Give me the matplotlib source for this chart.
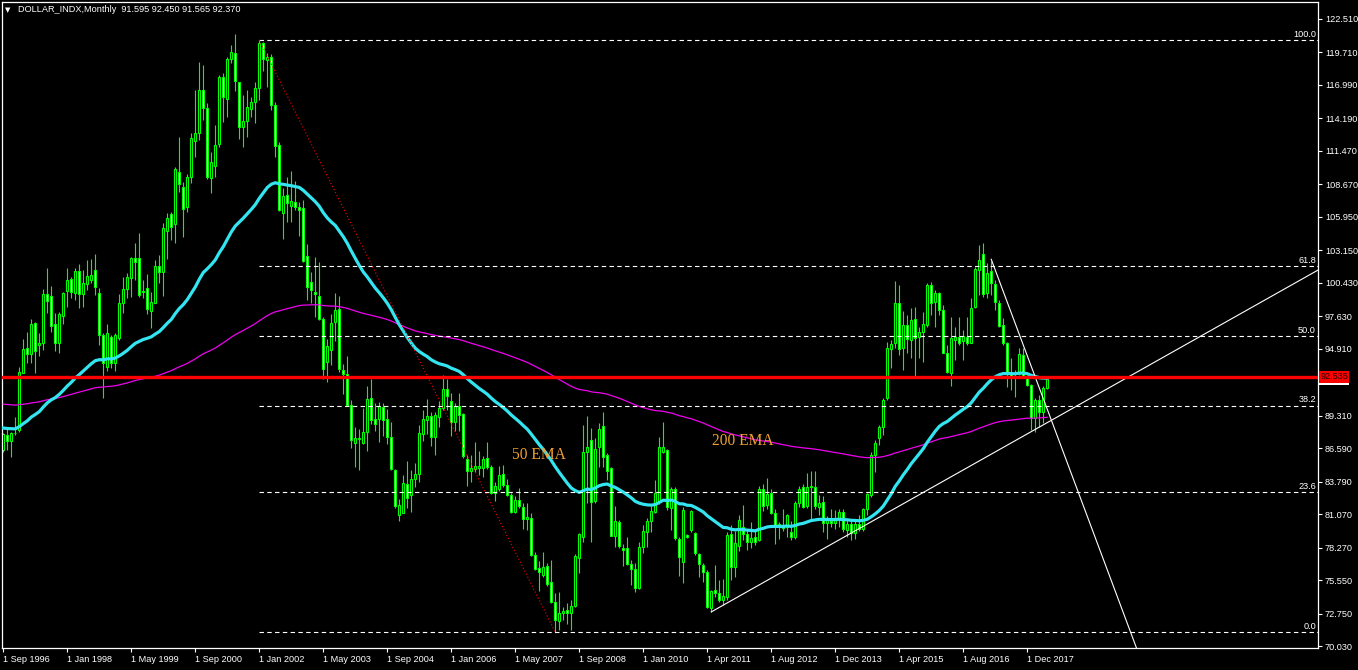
import numpy as np
import pandas as pd
import matplotlib
matplotlib.use("Agg")
import matplotlib.pyplot as plt
from matplotlib.transforms import blended_transform_factory

# monthly bars (bar index 0 = Sep 1996)
OPENS = [
    86.45, 87.70, 87.23, 87.84, 88.12, 92.92, 94.96, 94.45, 97.05, 95.20,
    95.37, 99.47, 99.30, 96.96, 95.43, 97.69, 99.78, 100.73, 99.61, 101.40,
    99.50, 100.31, 100.67, 101.51, 99.56, 96.07, 93.36, 95.93, 93.70, 95.79,
    98.78, 99.89, 100.81, 102.49, 102.51, 99.78, 99.98, 98.11, 98.78, 101.87,
    101.37, 104.80, 106.17, 105.33, 109.74, 108.48, 106.75, 109.26, 112.33, 113.00,
    116.57, 115.10, 109.18, 110.24, 112.03, 117.69, 115.79, 119.14, 119.64, 117.21,
    113.50, 114.00, 114.95, 115.60, 116.77, 120.53, 119.08, 119.30, 115.30, 111.93,
    106.31, 107.80, 106.88, 107.17, 106.74, 106.65, 102.70, 100.46, 99.70, 99.30,
    97.37, 93.77, 94.84, 97.11, 98.24, 93.11, 92.82, 90.23, 87.06, 87.43,
    87.06, 87.92, 90.77, 89.04, 89.07, 90.02, 89.01, 87.49, 84.75, 81.00,
    81.15, 83.60, 82.65, 84.03, 84.46, 87.78, 88.99, 89.27, 87.49, 89.22,
    89.94, 91.52, 90.51, 88.79, 90.08, 89.45, 85.67, 84.66, 84.84, 84.95,
    84.95, 85.76, 85.04, 82.88, 83.17, 84.46, 83.54, 82.65, 81.21, 82.24,
    81.67, 80.69, 80.71, 77.69, 76.54, 75.96, 76.77, 75.38, 73.75, 72.16,
    72.78, 73.06, 72.78, 73.42, 77.38, 79.19, 86.31, 87.28, 82.20, 86.67,
    88.45, 86.03, 84.91, 79.28, 80.39, 78.27, 78.22, 76.91, 76.46, 74.87,
    78.36, 79.61, 80.53, 81.23, 82.07, 86.31, 86.45, 81.56, 83.15, 78.97,
    77.10, 79.30, 79.75, 79.53, 77.74, 76.80, 76.26, 73.20, 74.73, 74.50,
    73.90, 74.17, 79.42, 76.63, 78.41, 80.03, 79.42, 78.78, 79.14, 78.91,
    83.15, 81.84, 82.82, 81.20, 80.03, 80.17, 80.03, 79.56, 79.14, 81.98,
    83.32, 81.76, 83.32, 83.32, 81.70, 82.12, 80.36, 80.53, 80.36, 80.73,
    81.29, 79.75, 80.25, 79.53, 80.25, 79.81, 81.48, 82.68, 86.03, 87.42,
    88.39, 90.76, 94.86, 95.42, 98.71, 94.95, 96.90, 95.64, 97.37, 95.87,
    96.34, 96.90, 100.25, 98.85, 99.55, 98.16, 94.58, 92.91, 95.64, 95.87,
    95.59, 95.92, 95.42, 98.38, 101.50, 102.84, 99.55, 101.45, 100.33, 98.77,
    96.90, 95.37, 92.86, 92.67, 92.80, 94.39, 92.58, 91.88, 89.09, 90.62,
    89.65, 91.595,
]
HIGHS = [
    87.84, 88.40, 87.98, 89.24, 93.42, 95.71, 96.35, 97.38, 97.19, 96.21,
    99.89, 101.65, 100.20, 97.88, 98.02, 99.70, 101.65, 100.95, 101.65, 102.01,
    101.51, 102.35, 102.46, 102.85, 100.03, 96.21, 96.99, 96.07, 96.21, 99.50,
    100.95, 101.23, 102.57, 103.74, 104.58, 100.67, 101.17, 99.70, 102.35, 102.77,
    105.41, 106.31, 106.39, 110.16, 112.67, 108.85, 109.54, 112.95, 116.57, 118.94,
    118.66, 115.46, 111.41, 113.64, 117.83, 117.97, 119.31, 120.34, 121.26, 117.27,
    116.15, 116.57, 116.01, 117.27, 120.75, 120.62, 119.70, 119.60, 115.60, 112.20,
    108.38, 109.25, 109.76, 108.93, 107.23, 107.37, 103.68, 101.32, 102.62, 102.19,
    97.57, 95.70, 97.86, 99.59, 99.30, 93.60, 94.32, 90.66, 88.35, 88.21,
    89.94, 91.81, 92.39, 90.37, 90.43, 90.37, 89.85, 88.79, 84.89, 82.30,
    84.32, 85.53, 84.75, 85.33, 88.50, 89.79, 90.72, 89.65, 89.65, 90.51,
    92.68, 92.39, 91.18, 90.37, 91.18, 89.56, 86.05, 86.05, 87.11, 86.34,
    85.90, 87.11, 85.18, 83.74, 85.12, 85.18, 84.03, 82.88, 82.59, 83.22,
    82.01, 82.01, 81.15, 77.92, 77.11, 77.92, 76.97, 77.26, 74.45, 74.59,
    73.34, 73.60, 73.89, 77.74, 79.47, 88.54, 89.29, 88.26, 87.42, 88.68,
    89.65, 86.17, 85.05, 81.76, 80.59, 78.58, 79.14, 77.24, 76.96, 78.78,
    80.17, 80.73, 81.76, 83.94, 87.56, 88.82, 86.50, 83.38, 83.32, 79.14,
    81.65, 79.42, 81.43, 79.61, 77.80, 76.96, 76.40, 74.73, 76.82, 75.57,
    75.62, 79.60, 80.20, 79.70, 81.00, 81.80, 79.80, 80.40, 79.70, 83.40,
    83.60, 84.10, 83.20, 81.50, 80.40, 81.50, 81.10, 80.50, 82.20, 83.40,
    83.60, 84.50, 84.70, 84.70, 82.70, 82.60, 80.90, 81.50, 81.40, 81.50,
    81.50, 80.70, 80.60, 80.60, 81.00, 81.60, 82.80, 86.30, 87.30, 88.53,
    90.76, 95.50, 95.65, 100.61, 100.25, 98.10, 97.74, 98.30, 98.38, 96.76,
    98.00, 100.39, 100.53, 99.83, 99.69, 98.58, 95.23, 97.54, 96.76, 97.54,
    96.48, 97.54, 99.13, 101.73, 103.59, 103.73, 102.06, 102.28, 100.67, 98.99,
    97.46, 95.50, 94.11, 93.13, 94.95, 94.95, 92.72, 91.96, 90.76, 91.04,
    91.80, 92.45,
]
LOWS = [
    86.31, 86.45, 85.89, 87.70, 87.98, 92.86, 93.70, 93.70, 92.92, 94.31,
    94.81, 97.88, 96.35, 94.76, 94.59, 97.00, 98.39, 99.14, 99.00, 98.30,
    98.39, 99.84, 100.39, 99.42, 95.23, 90.77, 93.09, 93.28, 93.09, 95.65,
    97.88, 99.14, 99.28, 100.67, 99.22, 99.14, 97.83, 96.63, 98.72, 100.39,
    99.33, 102.40, 104.02, 103.80, 108.06, 104.30, 106.39, 108.82, 110.99, 112.39,
    114.06, 109.10, 107.98, 109.32, 111.83, 113.92, 114.34, 118.80, 116.52, 112.44,
    111.77, 112.61, 114.34, 113.78, 115.74, 118.19, 116.85, 114.90, 110.97, 106.40,
    104.06, 105.50, 105.50, 106.51, 104.35, 102.19, 99.02, 98.73, 97.57, 97.29,
    92.39, 92.16, 93.54, 95.56, 92.96, 91.09, 90.08, 86.62, 85.04, 84.75,
    86.91, 86.34, 88.64, 88.06, 87.14, 87.63, 86.91, 84.75, 81.58, 80.51,
    81.15, 81.58, 81.29, 83.31, 83.74, 87.20, 87.78, 86.77, 86.05, 88.35,
    89.79, 89.79, 87.63, 88.06, 88.06, 85.76, 83.39, 83.74, 84.60, 84.32,
    84.17, 84.89, 82.73, 82.16, 83.02, 83.31, 82.59, 81.15, 81.15, 81.58,
    79.85, 79.76, 77.54, 76.39, 74.66, 75.82, 75.10, 73.66, 71.20, 71.38,
    72.22, 71.90, 71.38, 73.34, 76.13, 78.78, 81.98, 78.78, 81.98, 85.05,
    85.05, 83.94, 79.25, 78.36, 78.22, 76.74, 76.82, 75.15, 74.59, 74.79,
    77.80, 78.36, 79.61, 81.15, 81.93, 86.22, 81.43, 79.75, 78.91, 75.90,
    75.29, 79.05, 79.61, 77.66, 75.85, 75.43, 73.20, 72.90, 74.17, 73.76,
    73.50, 73.90, 75.60, 75.80, 78.00, 78.90, 78.10, 78.20, 78.50, 78.80,
    81.30, 81.50, 81.10, 78.60, 79.00, 79.70, 79.20, 78.90, 79.00, 81.70,
    81.60, 81.60, 80.50, 81.50, 81.00, 79.60, 79.00, 80.00, 79.80, 80.00,
    79.60, 79.20, 78.90, 79.00, 79.70, 79.70, 81.00, 82.50, 84.60, 86.86,
    87.70, 90.62, 93.27, 95.00, 94.39, 93.13, 94.59, 94.10, 92.58, 94.11,
    93.83, 96.76, 97.74, 96.76, 97.74, 94.53, 92.86, 91.80, 93.97, 95.23,
    93.97, 95.23, 95.37, 98.30, 99.41, 99.27, 99.13, 99.41, 98.16, 96.76,
    95.23, 91.74, 91.46, 90.90, 92.71, 92.44, 91.79, 88.11, 87.97, 88.39,
    88.67, 91.565,
]
CLOSES = [
    87.76, 87.23, 87.84, 87.90, 92.95, 94.87, 94.45, 97.00, 94.76, 95.43,
    99.50, 98.94, 96.85, 95.37, 97.83, 99.60, 100.67, 99.70, 101.45, 99.50,
    100.39, 100.98, 101.06, 100.11, 96.07, 93.70, 96.21, 93.70, 96.07, 98.72,
    99.89, 100.90, 102.51, 102.21, 99.42, 99.70, 98.22, 98.86, 101.87, 101.37,
    105.00, 105.83, 105.14, 109.93, 108.68, 106.59, 109.32, 112.53, 112.95, 116.57,
    115.10, 109.26, 110.52, 111.97, 117.63, 115.96, 119.14, 119.72, 117.35, 113.50,
    113.98, 115.12, 115.60, 116.77, 120.53, 119.19, 119.36, 115.30, 111.84, 106.51,
    107.66, 107.08, 107.29, 106.80, 106.51, 102.24, 100.11, 99.79, 99.50, 97.37,
    93.25, 95.13, 97.08, 98.15, 93.20, 92.82, 90.23, 87.26, 87.43, 87.37,
    87.92, 90.72, 88.99, 88.58, 90.08, 88.93, 87.49, 84.89, 81.72, 81.87,
    83.68, 82.44, 84.03, 84.40, 87.83, 89.01, 89.27, 87.49, 89.36, 89.94,
    91.52, 90.95, 88.79, 90.14, 89.36, 85.90, 84.66, 84.95, 85.10, 85.12,
    85.70, 85.04, 82.88, 83.40, 84.38, 83.51, 82.65, 81.29, 82.24, 81.72,
    80.63, 80.80, 77.63, 76.48, 76.25, 76.62, 75.24, 73.74, 72.22, 72.83,
    72.97, 72.78, 73.42, 77.58, 79.39, 86.25, 86.67, 82.12, 86.50, 88.18,
    85.89, 84.69, 79.28, 80.50, 78.41, 78.08, 76.88, 76.46, 74.87, 78.30,
    79.67, 80.50, 81.34, 82.88, 86.67, 86.72, 81.65, 83.15, 79.05, 77.46,
    81.43, 79.19, 81.34, 77.80, 76.91, 76.26, 73.28, 74.65, 74.45, 73.90,
    74.20, 79.33, 76.68, 78.64, 80.59, 79.39, 78.78, 79.05, 78.78, 83.15,
    81.76, 82.74, 81.15, 80.09, 80.25, 79.89, 81.01, 79.19, 81.98, 83.15,
    81.70, 83.32, 83.43, 81.76, 81.98, 80.36, 80.59, 80.31, 80.73, 81.29,
    79.81, 80.25, 79.53, 80.25, 79.81, 81.48, 82.74, 86.03, 87.06, 88.34,
    90.62, 94.95, 95.31, 98.71, 94.86, 96.90, 95.70, 97.32, 95.78, 96.34,
    96.98, 100.25, 98.71, 99.55, 98.16, 94.58, 93.00, 95.78, 95.92, 95.42,
    95.98, 95.37, 98.30, 101.56, 102.34, 99.49, 101.28, 100.39, 98.85, 96.82,
    95.37, 92.86, 92.67, 92.50, 94.45, 92.58, 91.88, 89.09, 90.62, 89.65,
    91.60, 92.37,
]

DATE_TICKS = list(range(0, 257, 16))
DATE_LABELS = ["1 Sep 1996", "1 Jan 1998", "1 May 1999", "1 Sep 2000", "1 Jan 2002",
               "1 May 2003", "1 Sep 2004", "1 Jan 2006", "1 May 2007", "1 Sep 2008",
               "1 Jan 2010", "1 Apr 2011", "1 Aug 2012", "1 Dec 2013", "1 Apr 2015",
               "1 Aug 2016", "1 Dec 2017"]
PRICE_TICKS = [122.51, 119.71, 116.99, 114.19, 111.47, 108.67, 105.95, 103.15,
               100.43, 97.63, 94.91, 89.31, 86.59, 83.79, 81.07, 78.27, 75.55,
               72.75, 70.03]

# drawn objects
FIB_HIGH = (64, 120.75)
FIB_LOW = (138, 71.20)
FIB_RATIOS = [1.0, 0.618, 0.5, 0.382, 0.236, 0.0]
FIB_TEXT = ["100.0", "61.8", "50.0", "38.2", "23.6", "0.0"]
SUPPORT = [(177, 72.89), (219, 80.81)]
RESIST = [(247, 102.40), (260.7, 90.13)]
HLINE = 92.535
EMA_FAST, EMA_FAST_SEED = 50, 88.3
EMA_SLOW, EMA_SLOW_SEED = 200, 90.3

o = np.array(OPENS); h = np.array(HIGHS); l = np.array(LOWS); c = np.array(CLOSES)
x = np.arange(len(c))

def ema(vals, span, seed):
    s = pd.Series([seed] + list(vals))
    return s.ewm(span=span, adjust=False).mean().to_numpy()[1:]

LIME = "#00FF00"
fig = plt.figure(figsize=(13.58, 6.70), dpi=100, facecolor="black")
ax = fig.add_axes([2 / 1358, 22 / 670, 1316 / 1358, 646 / 670])
ax.set_facecolor("black")
XMIN, XMAX = -0.325, 328.7
ax.set_xlim(XMIN, XMAX)
ax.set_ylim(69.87, 123.93)

# candles
ax.vlines(x, l, h, color=LIME, lw=0.8, zorder=2)
bull = c >= o
ax.bar(x, np.abs(c - o), 0.55, bottom=np.minimum(o, c),
       color=np.where(bull, "black", "white"), edgecolor=LIME, lw=0.8, zorder=2.5)

# moving averages
ax.plot(x, ema(c, EMA_SLOW, EMA_SLOW_SEED), color="#F000F0", lw=0.9, zorder=3)
ax.plot(x, ema(c, EMA_FAST, EMA_FAST_SEED), color="#33E5F0", lw=2.3, zorder=3.1)

# fibonacci
span = FIB_HIGH[1] - FIB_LOW[1]
trans = blended_transform_factory(ax.transAxes, ax.transData)
for r, t in zip(FIB_RATIOS, FIB_TEXT):
    lvl = FIB_LOW[1] + r * span
    ax.hlines(lvl, FIB_HIGH[0], XMAX, color="white", lw=0.8,
              linestyles=(0, (4, 3)), zorder=4)
    ax.text(0.9985, lvl + 0.12, t, transform=trans, ha="right", va="bottom",
            color="white", fontsize=6.6, family="Liberation Sans", zorder=5)
ax.plot([FIB_HIGH[0], FIB_LOW[0]], [FIB_HIGH[1], FIB_LOW[1]], color="red",
        lw=0.8, ls=(0, (1, 2)), zorder=4)

# trendlines (rays through two anchors)
for (x0, y0), (x1, y1) in (SUPPORT, RESIST):
    k = (y1 - y0) / (x1 - x0)
    ax.plot([x0, 340], [y0, y0 + k * (340 - x0)], color="white", lw=0.8, zorder=4)

ax.axhline(HLINE, color="red", lw=2.4, zorder=4.5)

ax.text(127.2, 86.0, "50 EMA", color="#F0A030", fontsize=11.2,
        family="Liberation Serif", va="center", zorder=5)
ax.text(177.2, 87.2, "200 EMA", color="#F0A030", fontsize=11.2,
        family="Liberation Serif", va="center", zorder=5)

# axes styling
for sp in ax.spines.values():
    sp.set_color("white")
    sp.set_linewidth(0.9)
ax.yaxis.tick_right()
ax.set_yticks(PRICE_TICKS)
ax.set_yticklabels([f"{v:.3f}" for v in PRICE_TICKS])
ax.set_xticks(DATE_TICKS)
ax.set_xticklabels(DATE_LABELS)
ax.tick_params(colors="white", labelcolor="white", labelsize=6.6, length=3,
               width=0.8, direction="out")
ax.tick_params(axis="y", pad=2)
ax.tick_params(axis="x", pad=2)
for lab in ax.get_xticklabels():
    lab.set_ha("left")
    lab.set_family("Liberation Sans")
for lab in ax.get_yticklabels():
    lab.set_family("Liberation Sans")

# price tags on the scale
ax.text(1.0017, 92.37, "92.370", transform=trans, ha="left", va="center",
        fontsize=6.6, family="Liberation Sans", color="black", clip_on=False,
        bbox=dict(boxstyle="square,pad=0.12", fc="white", ec="none"), zorder=6)
ax.text(1.0017, HLINE + 0.02, "92.535", transform=trans, ha="left", va="center",
        fontsize=6.6, family="Liberation Sans", color="#200000", clip_on=False,
        bbox=dict(boxstyle="square,pad=0.12", fc="red", ec="none"), zorder=7)

fig.text(8 / 1358, 1 - 10 / 670, "\u25bc", color="white", fontsize=5,
         family="DejaVu Sans", ha="center", va="center")
fig.text(18 / 1358, 1 - 10 / 670,
         "DOLLAR_INDX,Monthly  91.595 92.450 91.565 92.370",
         color="white", fontsize=6.6, family="Liberation Sans", va="center")

fig.savefig("out.png", dpi=100, facecolor="black")
